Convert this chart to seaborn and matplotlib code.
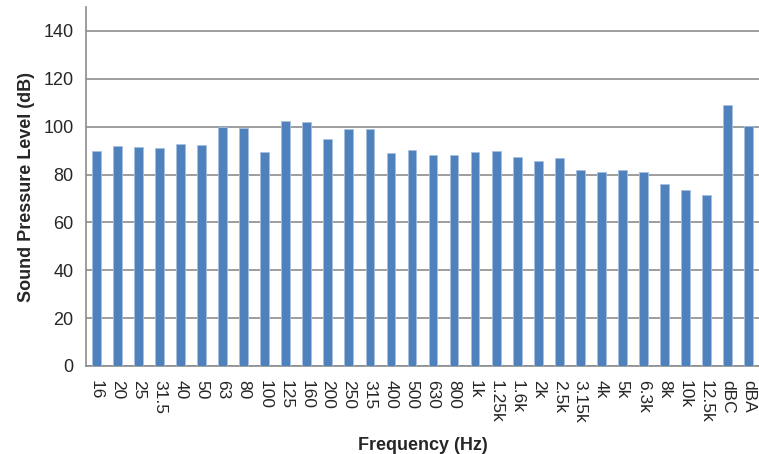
import numpy as np
import pandas as pd
import matplotlib
matplotlib.use("Agg")
import matplotlib.pyplot as plt
import seaborn as sns

freqs = ['16', '20', '25', '31.5', '40', '50', '63', '80', '100', '125', '160', '200',
         '250', '315', '400', '500', '630', '800', '1k', '1.25k', '1.6k', '2k', '2.5k',
         '3.15k', '4k', '5k', '6.3k', '8k', '10k', '12.5k', 'dBC', 'dBA']
spl = [89.7, 91.8, 91.6, 91.2, 92.9, 92.2, 99.9, 99.6, 89.3, 102.3, 101.8, 94.7,
       99.2, 98.9, 89.0, 90.4, 88.2, 88.3, 89.6, 90.0, 87.2, 85.5, 86.9,
       82.0, 81.1, 82.0, 81.1, 76.2, 73.4, 71.6, 108.9, 100.4]

df = pd.DataFrame({'Frequency': freqs, 'SPL': spl})

sns.set_style("white")
plt.rcParams['font.family'] = ['Liberation Sans', 'DejaVu Sans']

fig = plt.figure(figsize=(7.59, 4.54), dpi=100)
ax = fig.add_axes([86 / 759, 88 / 454, 673 / 759, 359 / 454])

sns.barplot(data=df, x='Frequency', y='SPL', color='#4F81BD', width=0.42,
            edgecolor='#A7C0E0', linewidth=0.6, saturation=1, ax=ax, zorder=3)

ax.set_ylim(0, 150)
ax.set_yticks(np.arange(0, 141, 20))
ax.set_xlim(-0.5, len(freqs) - 0.5)
ax.yaxis.grid(True, color='#8C8C8C', linewidth=1.2, zorder=0)
ax.set_axisbelow(True)

# category separators as tick marks, like Excel
ax.set_xticks(np.arange(len(freqs)))
ax.set_xticklabels(freqs, rotation=-90, fontsize=12.5)
ax.set_xticks(np.arange(-0.5, len(freqs), 1), minor=True)
ax.tick_params(axis='x', which='major', length=0, pad=10)
ax.tick_params(axis='x', which='minor', length=5, width=1, color='#8C8C8C', direction='out')
ax.tick_params(axis='y', length=5, width=1, color='#8C8C8C', direction='out', labelsize=13, pad=4)

for s in ['top', 'right']:
    ax.spines[s].set_visible(False)
for s in ['left', 'bottom']:
    ax.spines[s].set_color('#8C8C8C')
    ax.spines[s].set_linewidth(1.2)

ax.set_ylabel('Sound Pressure Level (dB)', fontsize=13, fontweight='bold', labelpad=6)
ax.set_xlabel('Frequency (Hz)', fontsize=13, fontweight='bold', labelpad=10)

fig.savefig('out.png', dpi=100)
